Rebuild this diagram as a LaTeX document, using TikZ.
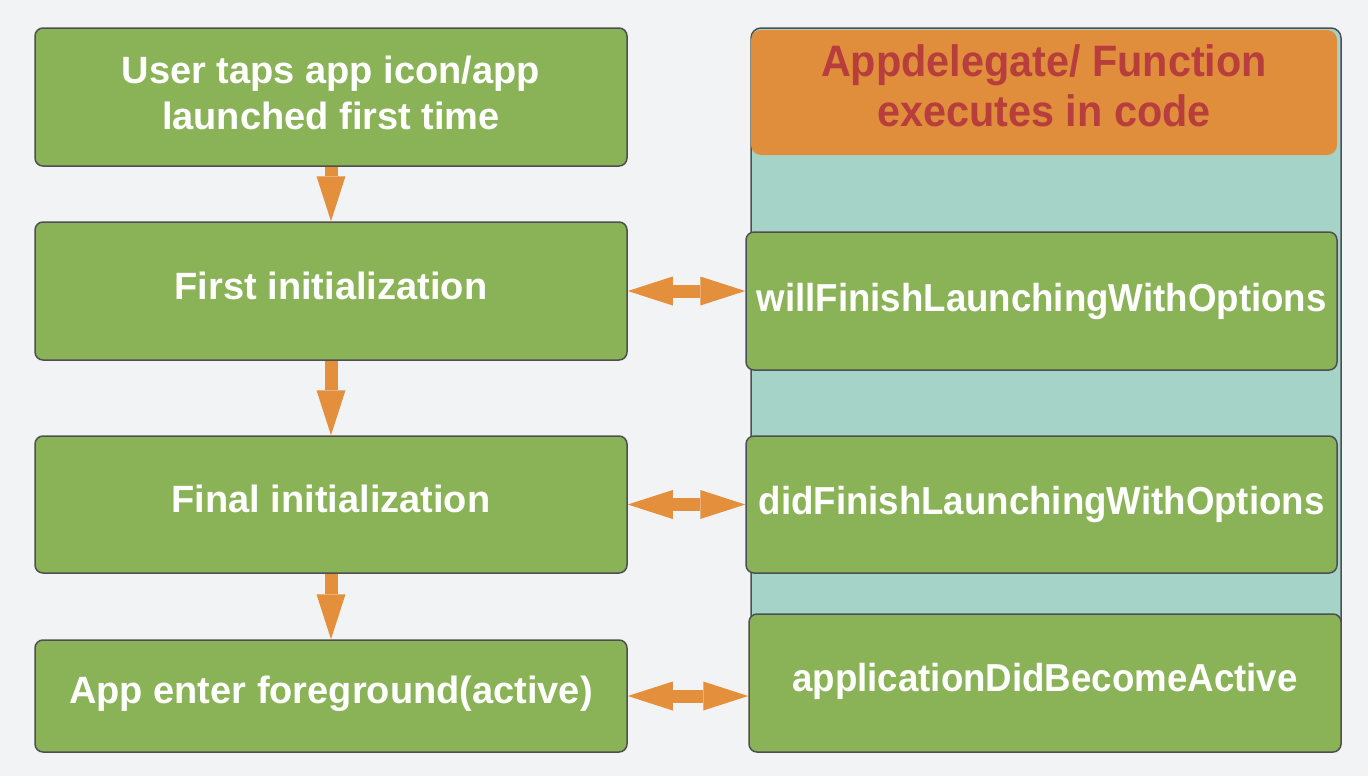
\documentclass[tikz,border=0pt]{standalone}
\usepackage{fontspec}
\setmainfont{Liberation Sans}
\newfontfamily\narrowsans{Liberation Sans}[FakeStretch=0.94]
\usetikzlibrary{arrows.meta,positioning}
\definecolor{bggray}{HTML}{F2F3F5}
\definecolor{stepgreen}{HTML}{8AB357}
\definecolor{flowor}{HTML}{E38F3C}
\definecolor{heador}{HTML}{E08D3C}
\definecolor{headred}{HTML}{B83E3E}
\definecolor{laneteal}{HTML}{A6D3C8}
\definecolor{edgegray}{HTML}{4D4F52}

\begin{document}
\begin{tikzpicture}[x=0.5pt,y=-0.5pt,
  stepbox/.style={draw=edgegray, line width=0.75pt, fill=stepgreen, rounded corners=4pt,
    text=white, align=center, inner sep=0pt, minimum width=296pt,
    font=\bfseries\fontsize{19}{23}\selectfont},
  callbox/.style={stepbox, minimum width=295.5pt,
    font=\narrowsans\bfseries\fontsize{19.5}{23}\selectfont},
  flowarrow/.style={draw=flowor, line width=6.5pt,
    -{Triangle[length=22.5pt,width=14.5pt,line width=0pt]}},
  twoway/.style={draw=flowor, line width=6.5pt,
    {Triangle[length=22.5pt,width=14.5pt,line width=0pt]}-{Triangle[length=22.5pt,width=14.5pt,line width=0pt]}}]
 % canvas
 \fill[bggray] (0,0) rectangle (1368,776);
 % left column: app states
 \node[stepbox, minimum height=69pt] (tap) at (331,97) {User taps app icon/app\\launched first time\rule[-4pt]{0pt}{0pt}};
 \node[stepbox, minimum height=69pt, text depth=5pt] (first) at (331,291) {First initialization};
 \node[stepbox, minimum height=68.5pt, text depth=6pt] (final) at (331,504.5) {Final initialization};
 \node[stepbox, minimum height=56pt, text depth=6pt] (fore) at (331,696) {App enter foreground(active)};
 % right column: delegate calls
 \node[draw=edgegray, line width=0.75pt, fill=laneteal, rounded corners=5pt,
   minimum width=295pt, minimum height=362pt, inner sep=0pt] (lane) at (1046,390) {};
 \node[fill=heador, rounded corners=5pt, minimum width=293pt, minimum height=62.5pt,
   inner sep=0pt, align=center, text=headred,
   font=\narrowsans\bfseries\fontsize{22}{25}\selectfont] (head) at (1044,92.5) {Appdelegate/ Function\\executes in code\rule[-6.5pt]{0pt}{0pt}};
 \node[callbox, minimum height=69pt] (will) at (1041.5,301) {willFinishLaunchingWithOptions};
 \node[callbox, minimum height=68.5pt] (did) at (1041.5,504.5) {didFinishLaunchingWithOptions};
 \node[callbox, minimum height=69pt, minimum width=296pt, text depth=6pt] (active) at (1045,683) {applicationDidBecomeActive};
 % flow
 \draw[flowarrow] (tap) -- (first);
 \draw[flowarrow] (first) -- (final);
 \draw[flowarrow] (final) -- (fore);
 \draw[twoway] (first.east) -- (first.east -| will.west);
 \draw[twoway] (final.east) -- (final.east -| did.west);
 \draw[twoway] (fore.east) -- (fore.east -| active.west);
\end{tikzpicture}
\end{document}
